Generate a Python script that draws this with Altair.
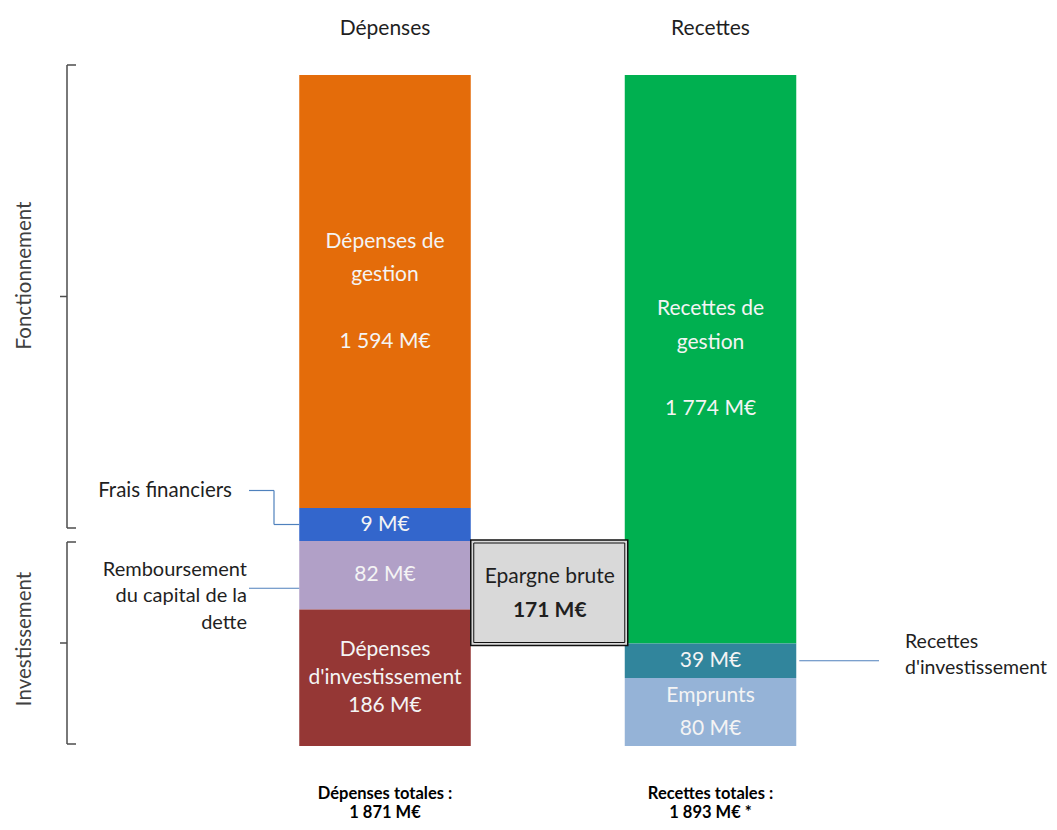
import json
import altair as alt
import pandas as pd

# ---------------- data ----------------
sides = ["Dépenses", "Recettes"]

# Dépenses, listed top to bottom
dep_names = ["Dépenses de gestion", "Frais financiers",
             "Remboursement du capital de la dette", "Dépenses d'investissement"]
dep_inner = ["Dépenses de\ngestion", "", "", "Dépenses\nd'investissement"]
dep_gap = [True, False, False, False]           # blank line between label and amount
dep_callout = ["", "Frais financiers", "Remboursement\ndu capital de la\ndette", ""]
dep_values = [1594, 9, 82, 186]                 # M€
dep_heights = [433, 33, 68.5, 136.5]            # drawn block heights (schematic figure)

# Recettes, listed top to bottom
rec_names = ["Recettes de gestion", "Recettes d'investissement", "Emprunts"]
rec_inner = ["Recettes de\ngestion", "", "Emprunts"]
rec_gap = [True, False, False]
rec_callout = ["", "Recettes\nd'investissement", ""]
rec_values = [1774, 39, 80]                     # M€
rec_heights = [568.5, 34.5, 68]                 # drawn block heights

groups = ["Fonctionnement", "Investissement"]
group_top = [681, 204]                          # bracket extents, drawing units
group_bottom = [218, 2]

# ---------------- styles ----------------
seg_colors = ["#E46C0A", "#3366CC", "#B1A0C7", "#953735",
              "#00B050", "#31859C", "#95B3D7"]
FONT = "Lato"
FS = 20.5
TXT = "#1F1F1F"
INK = "#F4F4F4"
LINE = "#4F81BD"
BRK = "#4D4D4D"


def fmt(v):
    return f"{v:,}".replace(",", " ") + " M€"


def build(side, names, inner, gap, callout, values, heights):
    rows = []
    top = sum(heights)
    for n, i, g, c, v, h in zip(names, inner, gap, callout, values, heights):
        y1, y0 = top, top - h
        txt = (i + "\n" + fmt(v)) if i else fmt(v)
        rows.append(dict(side=side, name=n, text=txt, head=i, val=fmt(v), gap=g,
                         nlines=txt.count("\n") + 1,
                         callout=c, value=v, y0=y0, y1=y1, ymid=(y0 + y1) / 2))
        top = y0
    return rows


seg = pd.DataFrame(build("Dépenses", dep_names, dep_inner, dep_gap, dep_callout, dep_values, dep_heights)
                   + build("Recettes", rec_names, rec_inner, rec_gap, rec_callout, rec_values, rec_heights))

epargne = rec_values[0] - dep_values[0] - dep_values[1]
box = pd.DataFrame([dict(
    left="Dépenses", right="Recettes",
    top=float(seg.loc[seg.name == dep_names[2], "y1"].iloc[0]),
    bottom=float(seg.loc[seg.name == rec_names[1], "y1"].iloc[0]),
    t1="Epargne brute", t2=fmt(epargne))])
box["mid"] = (box.top + box.bottom) / 2

brk = pd.DataFrame(dict(group=groups, top=group_top, bottom=group_bottom))
brk["mid"] = (brk.top + brk.bottom) / 2

totals = {
    "Dépenses": ["Dépenses totales :", fmt(sum(dep_values))],
    "Recettes": ["Recettes totales :", fmt(sum(rec_values)) + " *"],
}
label_expr = (f"datum.value == 'Dépenses' ? {json.dumps(totals['Dépenses'], ensure_ascii=False)}"
              f" : {json.dumps(totals['Recettes'], ensure_ascii=False)}")

# ---------------- scales ----------------
x_scale = alt.Scale(domain=sides, paddingInner=0.4731, paddingOuter=0.8356, align=0.5354)
y_scale = alt.Scale(domain=[-76, 738], nice=False, zero=False)

top_axis = alt.Axis(orient="top", title=None, domain=False, ticks=False, tickSize=0,
                    labelPadding=0, offset=-20, labelBaseline="middle", labelAngle=0,
                    labelFont=FONT, labelFontSize=21, labelColor=TXT, grid=False)
bottom_axis = alt.Axis(orient="bottom", title=None, domain=False, ticks=False, tickSize=0,
                       labelPadding=0, offset=-29, labelBaseline="middle", labelAngle=0,
                       labelFont=FONT, labelFontSize=16.5, labelFontWeight="bold",
                       labelColor="#000000", labelLineHeight=19.5, labelExpr=label_expr,
                       labelOverlap=False, grid=False)


def X(field="side:N", axis=None, **kw):
    return alt.X(field, scale=x_scale, axis=axis, **kw)


def Y(field):
    return alt.Y(field, scale=y_scale, axis=None)


base = alt.Chart(seg)

bars = base.mark_bar().encode(
    x=X(axis=top_axis),
    y=Y("y0:Q"), y2="y1:Q",
    color=alt.Color("name:N", scale=alt.Scale(domain=dep_names + rec_names, range=seg_colors),
                    legend=None),
)

# in-bar labels; one layer per number of lines so that each block is centred
plain = base.transform_filter(alt.datum.gap == False)
inner_layers = []
for n, lh in [(1, 33), (2, 33), (3, 28)]:
    inner_layers.append(
        plain.transform_filter(alt.datum.nlines == n).mark_text(
            font=FONT, fontSize=21, color=INK, lineBreak="\n", lineHeight=lh,
            baseline="middle", dy=-(n - 1) * lh / 2
        ).encode(x=X(axis=bottom_axis if n == 1 else None), y=Y("ymid:Q"), text="text:N")
    )
# blocks with a blank line: two label lines, gap, amount (4 line slots of 33.3 px)
gapped = base.transform_filter(alt.datum.gap == True)
inner_layers.append(gapped.mark_text(
    font=FONT, fontSize=21, color=INK, lineBreak="\n", lineHeight=33.3,
    baseline="middle", dy=-50).encode(x=X(), y=Y("ymid:Q"), text="head:N"))
inner_layers.append(gapped.mark_text(
    font=FONT, fontSize=21, color=INK, baseline="middle", dy=50).encode(
    x=X(), y=Y("ymid:Q"), text="val:N"))

# callouts
frais = base.transform_filter(alt.datum.name == dep_names[1])
frais_txt = frais.mark_text(font=FONT, fontSize=FS, color=TXT, align="right",
                            baseline="middle", dy=-34).encode(
    x=alt.value(224), y=Y("ymid:Q"), text="callout:N")
frais_h1 = frais.mark_rule(color=LINE, strokeWidth=1.2, yOffset=-34).encode(
    x=alt.value(241), x2=alt.value(266), y=Y("ymid:Q"))
frais_v = frais.mark_rule(color=LINE, strokeWidth=1.2, y2Offset=-34).encode(
    x=alt.value(266), y=Y("ymid:Q"), y2="ymid:Q")
frais_h2 = frais.mark_rule(color=LINE, strokeWidth=1.2).encode(
    x=X(bandPosition=0), x2=alt.value(266), y=Y("ymid:Q"))

remb = base.transform_filter(alt.datum.name == dep_names[2])
remb_txt = remb.mark_text(font=FONT, fontSize=20, color=TXT, align="right", baseline="middle",
                          lineBreak="\n", lineHeight=26.5, dy=-5.5).encode(
    x=alt.value(239), y=Y("ymid:Q"), text="callout:N")
remb_line = remb.mark_rule(color=LINE, strokeWidth=1.2, yOffset=13).encode(
    x=X(bandPosition=0), x2=alt.value(241), y=Y("ymid:Q"))

rinv = base.transform_filter(alt.datum.name == rec_names[1])
rinv_txt = rinv.mark_text(font=FONT, fontSize=19.5, color=TXT, align="left", baseline="middle",
                          lineBreak="\n", lineHeight=26.5, dy=-19).encode(
    x=alt.value(897), y=Y("ymid:Q"), text="callout:N")
rinv_line = rinv.mark_rule(color=LINE, strokeWidth=1.2, xOffset=3).encode(
    x=X(bandPosition=1), x2=alt.value(871), y=Y("ymid:Q"))

# épargne brute box
bx = alt.Chart(box)
box_outer = bx.mark_rect(fill="#D9D9D9", stroke="#111111", strokeWidth=1.5,
                         yOffset=-1, y2Offset=2, x2Offset=3).encode(
    x=X("left:N", bandPosition=1), x2=alt.X2("right:N", bandPosition=0),
    y=Y("top:Q"), y2="bottom:Q")
box_inner = bx.mark_rect(filled=False, stroke="#111111", strokeWidth=1,
                         xOffset=3, x2Offset=0, yOffset=2, y2Offset=-1).encode(
    x=X("left:N", bandPosition=1), x2=alt.X2("right:N", bandPosition=0),
    y=Y("top:Q"), y2="bottom:Q")
box_t1 = bx.mark_text(font=FONT, fontSize=21, color=TXT, dx=79, dy=-15, baseline="middle").encode(
    x=X("left:N", bandPosition=1), y=Y("mid:Q"), text="t1:N")
box_t2 = bx.mark_text(font=FONT, fontSize=21, fontWeight="bold", color=TXT, dx=79, dy=19,
                      baseline="middle").encode(
    x=X("left:N", bandPosition=1), y=Y("mid:Q"), text="t2:N")

# brackets
bk = alt.Chart(brk)
brk_v = bk.mark_rule(color=BRK, strokeWidth=1.5).encode(
    x=alt.value(59), y=Y("top:Q"), y2="bottom:Q")
brk_hooks = bk.transform_fold(["top", "bottom"]).mark_rule(color=BRK, strokeWidth=1.5).encode(
    x=alt.value(59), x2=alt.value(68), y=Y("value:Q"))
brk_tick = bk.mark_rule(color=BRK, strokeWidth=1.5).encode(
    x=alt.value(52), x2=alt.value(59), y=Y("mid:Q"))
brk_lbl_f = bk.transform_filter(alt.datum.group == groups[0]).mark_text(
    font=FONT, fontSize=FS, color="#404040", angle=270, align="center",
    baseline="middle", dx=21).encode(x=alt.value(17), y=Y("mid:Q"), text="group:N")
brk_lbl_i = bk.transform_filter(alt.datum.group == groups[1]).mark_text(
    font=FONT, fontSize=FS, color="#404040", angle=270, align="center",
    baseline="middle", dx=4).encode(x=alt.value(17), y=Y("mid:Q"), text="group:N")

chart = alt.layer(
    bars, *inner_layers,
    frais_h1, frais_v, frais_h2, frais_txt,
    remb_line, remb_txt, rinv_line, rinv_txt,
    box_outer, box_inner, box_t1, box_t2,
    brk_v, brk_hooks, brk_tick, brk_lbl_f, brk_lbl_i,
).resolve_axis(x="independent").properties(
    width=1041, height=814, padding=0,
    autosize=alt.AutoSizeParams(type="none"),
).configure_view(stroke=None)

chart.save("out.html", embed_options={"renderer": "svg", "actions": False})
